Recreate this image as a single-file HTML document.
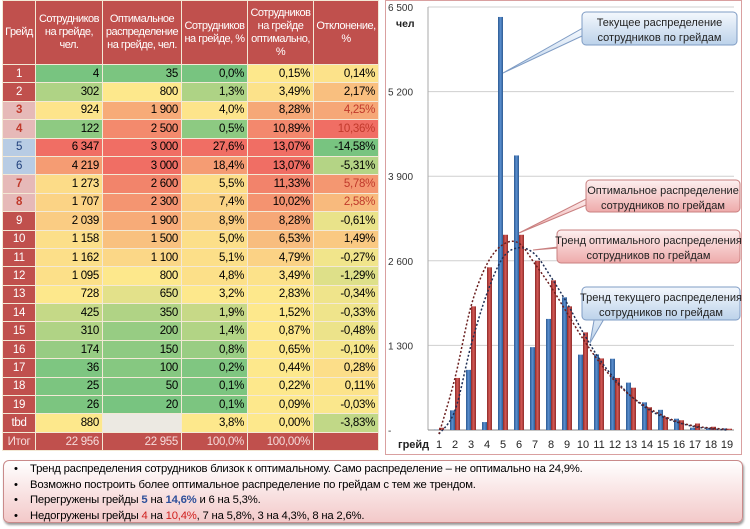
<!DOCTYPE html>
<html><head><meta charset="utf-8">
<style>
body{margin:0;width:750px;height:529px;background:#fff;font-family:"Liberation Sans","DejaVu Sans",sans-serif;position:relative;overflow:hidden}
table{position:absolute;left:2px;top:0;border-collapse:collapse;font-size:11.5px;letter-spacing:-0.3px;table-layout:fixed;width:376px}
td,th{border:1px solid #f3e9d6;padding:0 3px;height:17.4px;text-align:right;white-space:nowrap;overflow:hidden}
th{background:#c0504d;color:#fff;font-weight:normal;text-align:center;height:63px;line-height:13px;font-size:11px;letter-spacing:-0.5px;white-space:normal;padding:0}
td.g{text-align:center;color:#fff;background:#c0504d}
td.gp{background:#e6b9b8;color:#c0392b;font-weight:bold}
td.gb{background:#b8cce4;color:#1f3f7a}
tr.tot td{background:#c0504d;color:#f6dcdc}
.notes{position:absolute;left:3px;top:460px;width:740px;height:63px;border:1px solid #c98a8a;border-radius:6px;background:linear-gradient(#fff,#f3c9c9);box-shadow:1px 2px 2px #999;font-size:11.3px;line-height:15.5px;padding-top:1px;box-sizing:border-box}
.notes div{padding-left:26px;position:relative;letter-spacing:-0.2px}
.notes div:before{content:"•";position:absolute;left:10px}
.b{color:#2d4f9a;font-weight:bold}.r{color:#d0201e}
</style></head><body>
<table>
<colgroup><col style="width:33px"><col style="width:67px"><col style="width:79px"><col style="width:66px"><col style="width:66px"><col style="width:65px"></colgroup>
<thead><tr>
<th>Грейд</th><th>Сотрудников на грейде, чел.</th><th>Оптимальное распределение на грейде, чел.</th><th>Сотрудников на грейде, %</th><th>Сотрудников на грейде оптимально, %</th><th>Отклонение, %</th>
</tr></thead>
<tbody id="tb"></tbody>
</table>

<svg id="chart" style="position:absolute;left:385px;top:0" width="362" height="456">
<defs>
<linearGradient id="gb" x1="0" x2="1"><stop offset="0" stop-color="#2c5a92"/><stop offset=".5" stop-color="#5b8fd0"/><stop offset="1" stop-color="#2c5a92"/></linearGradient>
<linearGradient id="gr" x1="0" x2="1"><stop offset="0" stop-color="#8e2a28"/><stop offset=".5" stop-color="#d55a56"/><stop offset="1" stop-color="#8e2a28"/></linearGradient>
<linearGradient id="cb" x1="0" y1="0" x2="0" y2="1"><stop offset="0" stop-color="#f4f8fd"/><stop offset="1" stop-color="#bcd2ea"/></linearGradient>
<linearGradient id="cr" x1="0" y1="0" x2="0" y2="1"><stop offset="0" stop-color="#fdf0f0"/><stop offset="1" stop-color="#eeaaaa"/></linearGradient>
</defs>
<rect x="0.5" y="0.5" width="356" height="454" fill="#fff" stroke="#d9a0a0"/>
<g id="grid"></g><g id="bars"></g><g id="trends"></g><g id="callouts"></g>
</svg>

<div class="notes">
<div>Тренд распределения сотрудников близок к оптимальному. Само распределение – не оптимально на 24,9%.</div>
<div>Возможно построить более оптимальное распределение по грейдам с тем же трендом.</div>
<div>Перегружены грейды <span class="b">5</span> на <span class="b">14,6%</span> и 6 на 5,3%.</div>
<div>Недогружены грейды <span class="r">4</span> на <span class="r">10,4%</span>, 7 на 5,8%, 3 на 4,3%, 8 на 2,6%.</div>
</div>

<script>
const grades=["1","2","3","4","5","6","7","8","9","10","11","12","13","14","15","16","17","18","19","tbd"];
const current=[4,302,924,122,6347,4219,1273,1707,2039,1158,1162,1095,728,425,310,174,36,25,26,880];
const optimal=[35,800,1900,2500,3000,3000,2600,2300,1900,1500,1100,800,650,350,200,150,100,50,20,null];
const curPct=[0.0,1.3,4.0,0.5,27.6,18.4,5.5,7.4,8.9,5.0,5.1,4.8,3.2,1.9,1.4,0.8,0.2,0.1,0.1,3.8];
const optPct=[0.15,3.49,8.28,10.89,13.07,13.07,11.33,10.02,8.28,6.53,4.79,3.49,2.83,1.52,0.87,0.65,0.44,0.22,0.09,0.00];
const devPct=[0.14,2.17,4.25,10.36,-14.58,-5.31,5.78,2.58,-0.61,1.49,-0.27,-1.29,-0.34,-0.33,-0.48,-0.10,0.28,0.11,-0.03,-3.83];
const trendCurrent=[-300,300,1300,2100,2650,2800,2700,2350,1950,1500,1100,780,520,330,200,110,50,20,0];
const trendOptimal=[-100,800,1900,2550,2850,2870,2550,2200,1800,1400,1050,750,520,350,220,120,60,30,10];
const yTicks=[0,1300,2600,3900,5200,6500];
const yTickLabels=["-","1 300","2 600","3 900","5 200","6 500"];

function fmtN(v){return v==null?"":String(v).replace(/\B(?=(\d{3})+(?!\d))/g," ");}
function fmtP(v,d){return v.toFixed(d).replace(".",",")+"%";}
function mix(a,b,t){t=Math.max(0,Math.min(1,t));return a.map((x,i)=>Math.round(x+(b[i]-x)*t));}
const G=[120,196,128],Y=[253,232,140],R=[240,110,100];
function scale(arr){const v=arr.filter(x=>x!=null).slice().sort((a,b)=>a-b);const mn=v[0],mx=v[v.length-1],md=v[Math.floor(v.length/2)];
 return x=>{if(x==null)return"#ece9e2";let c=x<=md?mix(G,Y,(x-mn)/(md-mn||1)):mix(Y,R,(x-md)/(mx-md||1));return`rgb(${c})`;};}
function scaleYR(arr){const mx=Math.max(...arr),lo=3;return x=>`rgb(${x<=lo?Y:mix(Y,R,(x-lo)/(mx-lo))})`;}
function scaleDev(arr){const mn=Math.min(...arr),mx=Math.max(...arr);return x=>`rgb(${x<0?mix(Y,G,Math.pow(x/mn,0.6)):mix(Y,R,Math.pow(x/mx,0.7))})`;}
const s1=scale(current.slice(0,19)),s2=scale(optimal),s3=scale(curPct.slice(0,19)),s4=scaleYR(optPct),s5=scaleDev(devPct);
const tb=document.getElementById('tb');
grades.forEach((g,i)=>{
 const tr=document.createElement('tr');
 
 
 let cls='g';if(["3","4","7","8"].includes(g))cls+=' gp';if(["5","6"].includes(g))cls+=' gb';
 const devColor=["3","4","7","8"].includes(g)?'color:#c0392b':'';
 tr.innerHTML=`<td class="${cls}">${g}</td><td style="background:${i<19?s1(current[i]):'rgb(253,232,140)'}">${fmtN(current[i])}</td><td style="background:${s2(optimal[i])}">${fmtN(optimal[i])}</td><td style="background:${i<19?s3(curPct[i]):'rgb(253,232,140)'}">${fmtP(curPct[i],1)}</td><td style="background:${s4(optPct[i])}">${fmtP(optPct[i],2)}</td><td style="background:${s5(devPct[i])};${devColor}">${fmtP(devPct[i],2)}</td>`;
 tb.appendChild(tr);
});
const tt=document.createElement('tr');tt.className='tot';


tt.innerHTML='<td style="text-align:center">Итог</td><td>22 956</td><td>22 955</td><td>100,0%</td><td>100,00%</td><td></td>';
tb.appendChild(tt);

const NS="http://www.w3.org/2000/svg";
function el(t,a,p){const e=document.createElementNS(NS,t);for(const k in a)e.setAttribute(k,a[k]);p.appendChild(e);return e;}
const y0=430,yTop=7,ymax=6500;
const yS=v=>y0-(v/ymax)*(y0-yTop);
const xS=i=>54+i*16;
const grid=document.getElementById('grid');
yTicks.forEach((t,k)=>{
 if(t>0){const l=el('line',{x1:43,x2:349,y1:yS(t),y2:yS(t),stroke:'#cfcfcf'},grid);}
 const tx=el('text',{x:3,y:yS(t)+4,'font-size':10,fill:'#333'},grid);tx.textContent=yTickLabels[k];
 
 
});
const ya=el('line',{x1:43,x2:43,y1:yTop,y2:y0,stroke:'#aaa'},grid);

const xa=el('line',{x1:43,x2:349,y1:y0,y2:y0,stroke:'#888'},grid);

const yt=el('text',{x:11,y:27,'font-size':10.5,'font-weight':'bold',fill:'#222'},grid);yt.textContent='чел';

const xt=el('text',{x:13,y:448,'font-size':11,'font-weight':'bold',fill:'#222'},grid);xt.textContent='грейд';

const bars=document.getElementById('bars');
for(let i=0;i<19;i++){
 const c=xS(i);
 const lb=el('text',{x:c,y:448,'font-size':11,'text-anchor':'middle',fill:'#222'},grid);lb.textContent=grades[i];
 
 const b=el('rect',{x:c-5,y:yS(current[i]),width:5,height:y0-yS(current[i]),fill:'url(#gb)'},bars);
 
 const r=el('rect',{x:c,y:yS(optimal[i]),width:5,height:y0-yS(optimal[i]),fill:'url(#gr)'},bars);
 
}
function smooth(vals){const p=vals.map((v,i)=>[xS(i),Math.min(yS(v),y0+4)]);let d=`M${p[0][0]},${p[0][1]}`;
 for(let i=0;i<p.length-1;i++){const a=p[i-1]||p[i],b=p[i],c=p[i+1],e=p[i+2]||c;
  d+=` C${b[0]+(c[0]-a[0])/6},${b[1]+(c[1]-a[1])/6} ${c[0]-(e[0]-b[0])/6},${c[1]-(e[1]-b[1])/6} ${c[0]},${c[1]}`;}return d;}
const trends=document.getElementById('trends');
const t1=el('path',{d:smooth(trendCurrent),fill:'none',stroke:'#1f2f55','stroke-width':1.5,'stroke-dasharray':'2,2'},trends);

const t2=el('path',{d:smooth(trendOptimal),fill:'none',stroke:'#6a1f1f','stroke-width':1.5,'stroke-dasharray':'2,2'},trends);


const co=document.getElementById('callouts');
function callout(name,x,y,w,h,fill,stroke,px,py,bx,lines){
 const g=el('g',{},co);
 
 
 el('polygon',{points:`${bx-8},${y+h/2} ${bx+8},${y+h/2} ${px},${py}`,fill:fill,stroke:stroke},g);
 el('rect',{x:x,y:y,width:w,height:h,rx:4,fill:fill,stroke:stroke},g);
 lines.forEach((s,k)=>{const t=el('text',{x:x+w/2,y:y+14+k*15,'font-size':11,'text-anchor':'middle',fill:'#222'},g);t.textContent=s;});
}
callout('callout-current-distribution',197,12,155,33,'url(#cb)','#7f9cc4',118,73,205,['Текущее распределение','сотрудников по грейдам']);
callout('callout-optimal-distribution',201,180,154,32,'url(#cr)','#c98080',134,233,215,['Оптимальное распределение','сотрудников по грейдам']);
callout('callout-optimal-trend',172,230,183,33,'url(#cr)','#c98080',148,250,185,['Тренд оптимального распределения','сотрудников по грейдам']);
callout('callout-current-trend',197,287,158,33,'url(#cb)','#7f9cc4',205,343,220,['Тренд текущего распределения','сотрудников по грейдам']);
</script>
</body></html>
